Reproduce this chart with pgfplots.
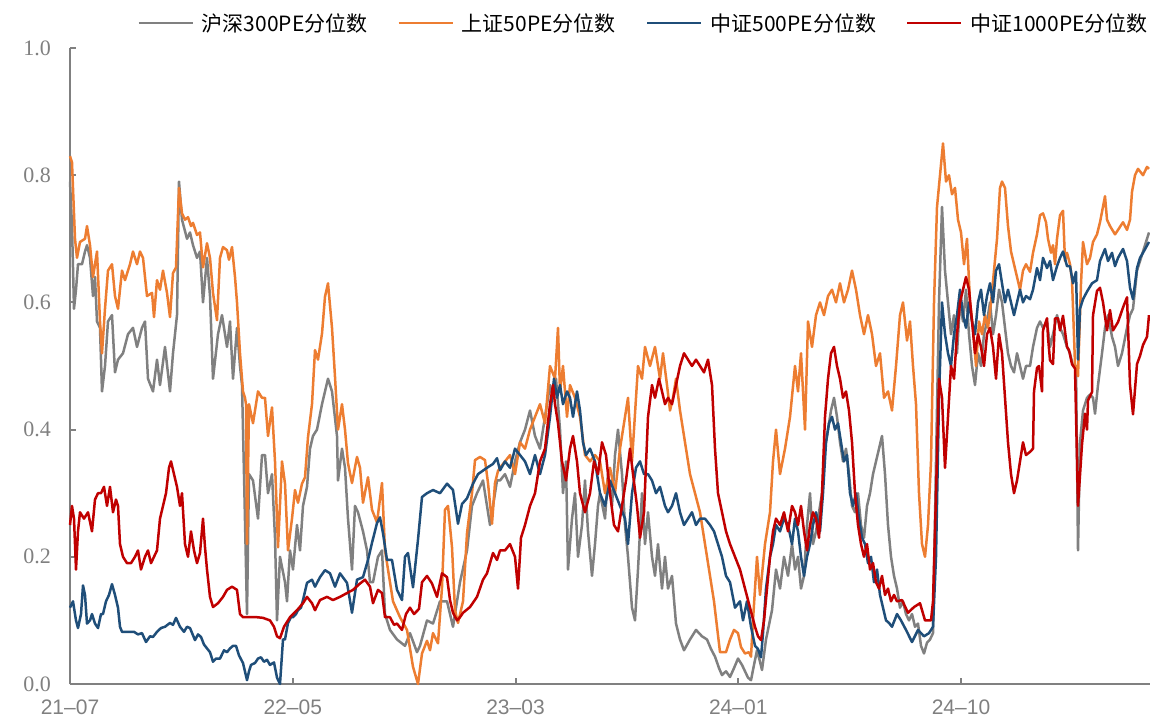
\documentclass[border=0pt]{standalone}
\usepackage{pgfplots}
\pgfplotsset{compat=1.18}
\usepackage{fontspec}
\setmainfont{Liberation Serif}
\newfontfamily\sansf{Liberation Sans}
\newfontfamily\cjk{Noto Sans CJK SC}
\definecolor{axgray}{HTML}{808080}
\definecolor{cgray}{HTML}{808080}
\definecolor{corange}{HTML}{ED7D31}
\definecolor{cblue}{HTML}{1F4E79}
\definecolor{cred}{HTML}{C00000}
\begin{document}
\begin{tikzpicture}
\begin{axis}[
  scale only axis, width=1080pt, height=636pt,
  xmin=70, xmax=1150, ymin=0, ymax=1,
  axis x line=bottom, axis y line=left,
  axis line style={-, draw=axgray, line width=2.2pt},
  xtick={70,292.75,515.5,738.25,961},
  xticklabels={21–07,22–05,23–03,24–01,24–10},
  ytick={0,0.2,0.4,0.6,0.8,1.0},
  yticklabels={0.0,0.2,0.4,0.6,0.8,1.0},
  tick style={draw=axgray, line width=2pt},
  major tick length=6pt, tick align=inside,
  xticklabel style={font=\sansf\fontsize{21}{21}\selectfont, text=axgray, inner sep=0pt, yshift=-16pt},
  yticklabel style={font=\fontsize{22}{22}\selectfont, text=axgray, inner sep=0pt, xshift=-19pt},
  clip=false,
  legend columns=4,
  legend style={draw=none, fill=none, inner sep=0pt,
    at={(axis description cs:1.0,1.0393)}, anchor=east,
    font=\cjk\fontsize{21}{21}\selectfont,
    /tikz/every odd column/.append style={column sep=6pt},
    /tikz/every even column/.append style={column sep=28pt}},
  legend cell align=left,
  legend image code/.code={\draw[#1] (0pt,0pt) -- (54pt,0pt);},
  every axis plot/.append style={line width=2.5pt, line join=round},
]
% 沪深300
\addplot[cgray] coordinates {
(70,0.79) (72,0.72) (74,0.59) (76,0.62) (78,0.66) (82,0.66) (85,0.68) (87,0.69) (90,0.67) (93,0.61) (95,0.64) (97,0.57) (100,0.56) (102,0.46) (105,0.50) (108,0.57) (112,0.58) (115,0.49) (118,0.51) (123,0.52) (128,0.55) (133,0.56) (137,0.53) (142,0.56) (145,0.57) (148,0.48) (153,0.46) (157,0.51) (160,0.47) (165,0.53) (170,0.46) (173,0.52) (177,0.58) (179,0.79) (182,0.73) (187,0.70) (190,0.71) (193,0.69) (197,0.67) (200,0.68) (203,0.60) (207,0.67) (210,0.61) (213,0.48) (218,0.55) (222,0.58) (227,0.53) (230,0.57) (233,0.48) (237,0.56) (240,0.50) (242,0.47) (244,0.33) (247,0.11) (249,0.33) (253,0.32) (258,0.26) (262,0.36) (265,0.36) (268,0.30) (272,0.33) (275,0.23) (277,0.10) (280,0.20) (285,0.16) (287,0.13) (290,0.21) (293,0.18) (297,0.25) (300,0.21) (303,0.28) (307,0.31) (310,0.37) (313,0.39) (317,0.40) (322,0.44) (325,0.46) (328,0.48) (332,0.46) (337,0.39) (338,0.32) (342,0.37) (345,0.34) (348,0.26) (352,0.18) (355,0.28) (358,0.27) (363,0.24) (367,0.21) (370,0.16) (373,0.16) (378,0.20) (382,0.21) (385,0.11) (390,0.085) (397,0.07) (405,0.06) (410,0.08) (417,0.05) (420,0.06) (427,0.10) (433,0.095) (440,0.13) (447,0.13) (453,0.09) (460,0.16) (467,0.21) (472,0.28) (477,0.30) (483,0.32) (487,0.28) (490,0.25) (493,0.28) (497,0.32)
(500,0.32) (505,0.33) (510,0.31) (515,0.35) (520,0.38) (525,0.40) (530,0.43) (535,0.39) (540,0.37) (545,0.42) (550,0.47) (553,0.45) (556,0.48) (560,0.40) (563,0.30) (566,0.35) (568,0.18) (572,0.26) (575,0.30) (578,0.20) (582,0.25) (585,0.32) (588,0.24) (592,0.17) (595,0.22) (598,0.28) (600,0.30) (605,0.26) (608,0.33) (612,0.28) (615,0.36) (618,0.40) (622,0.33) (625,0.25) (628,0.20) (632,0.12) (635,0.10) (638,0.18) (642,0.30) (645,0.22) (648,0.27) (652,0.20) (655,0.17) (658,0.22) (662,0.15) (665,0.20) (668,0.15) (672,0.17) (676,0.095) (680,0.07) (684,0.053) (690,0.07) (696,0.085) (702,0.075) (707,0.07) (711,0.055) (715,0.043) (719,0.025) (722,0.014) (726,0.02) (730,0.011) (734,0.025) (738,0.04) (742,0.03) (745,0.02) (748,0.01) (751,0.006) (754,0.03) (757,0.053) (760,0.035) (762,0.022) (766,0.07) (772,0.116) (776,0.18) (780,0.15) (784,0.20) (788,0.17) (792,0.22) (795,0.18) (798,0.20) (801,0.15) (804,0.17) (807,0.25) (810,0.30) (813,0.22) (816,0.24) (819,0.27) (822,0.30) (825,0.37) (828,0.40) (831,0.43) (834,0.45) (837,0.42) (840,0.38) (843,0.35) (846,0.37) (849,0.33) (852,0.28) (855,0.27) (858,0.30) (861,0.25) (864,0.23) (867,0.28) (870,0.30) (873,0.33) (876,0.35) (879,0.37) (882,0.39) (885,0.33) (888,0.25) (891,0.20) (894,0.17) (897,0.15) (900,0.12) (903,0.13) (906,0.11) (909,0.10) (912,0.11) (915,0.09) (918,0.095) (921,0.06) (924,0.048) (927,0.065) (930,0.07) (933,0.08) (936,0.35) (939,0.60) (942,0.75) (945,0.65) (948,0.60) (951,0.55) (954,0.58) (957,0.52) (960,0.60) (963,0.57) (966,0.62) (969,0.55) (972,0.50) (975,0.47) (978,0.52) (981,0.50) (984,0.55) (987,0.57) (990,0.60) (993,0.55) (996,0.58) (999,0.62) (1002,0.60) (1005,0.56) (1008,0.52) (1011,0.50) (1014,0.49) (1017,0.52) (1020,0.50) (1023,0.48) (1026,0.50) (1030,0.50) (1033,0.53) (1037,0.56) (1040,0.57) (1043,0.56) (1047,0.57) (1050,0.53) (1053,0.55) (1057,0.58) (1060,0.56) (1063,0.55) (1067,0.53) (1070,0.52) (1073,0.50) (1076,0.50) (1078,0.21) (1080,0.38) (1083,0.43) (1087,0.45) (1090,0.455) (1093,0.45) (1095,0.425) (1098,0.47) (1102,0.52) (1105,0.56) (1108,0.58) (1112,0.546) (1115,0.53) (1118,0.50) (1122,0.52) (1127,0.56) (1130,0.58) (1133,0.59) (1137,0.65) (1140,0.665) (1143,0.68) (1147,0.70) (1149,0.71)
};
\addlegendentry{沪深300PE分位数}
% 上证50
\addplot[corange] coordinates {
(70,0.83) (72,0.82) (75,0.70) (77,0.67) (80,0.695) (85,0.70) (87,0.72) (90,0.69) (93,0.64) (97,0.68) (100,0.57) (102,0.52) (105,0.59) (108,0.65) (112,0.66) (115,0.61) (118,0.59) (122,0.65) (125,0.635) (130,0.66) (133,0.68) (137,0.66) (140,0.68) (143,0.67) (147,0.61) (152,0.615) (154,0.577) (157,0.635) (160,0.62) (163,0.65) (167,0.615) (170,0.577) (173,0.646) (176,0.655) (179,0.78) (182,0.74) (185,0.73) (188,0.734) (191,0.72) (193,0.725) (197,0.706) (200,0.71) (203,0.655) (207,0.693) (210,0.67) (213,0.615) (217,0.572) (220,0.67) (223,0.687) (227,0.682) (229,0.667) (232,0.687) (235,0.64) (237,0.60) (240,0.52) (243,0.46) (245,0.45) (246,0.44) (247,0.22) (249,0.44) (253,0.41) (258,0.46) (262,0.45) (265,0.45) (268,0.39) (272,0.435) (275,0.35) (278,0.215) (282,0.35) (285,0.315) (288,0.21) (292,0.26) (295,0.305) (298,0.285) (302,0.315) (305,0.325) (308,0.388) (312,0.44) (315,0.525) (318,0.51) (322,0.551) (325,0.609) (328,0.63) (332,0.56) (335,0.483) (338,0.40) (342,0.44) (345,0.40) (348,0.347) (352,0.316) (357,0.357) (360,0.34) (363,0.285) (368,0.325) (372,0.274) (377,0.254) (382,0.316) (385,0.21) (388,0.18) (393,0.13) (400,0.105) (407,0.085) (413,0.027) (418,0.0) (422,0.048) (427,0.068) (430,0.053) (433,0.08) (438,0.064) (442,0.152) (445,0.274) (448,0.28) (452,0.215) (455,0.116) (458,0.096) (463,0.13) (467,0.237) (472,0.30) (475,0.352) (480,0.357) (485,0.352) (488,0.316) (492,0.252) (495,0.316) (498,0.335)
(500,0.34) (505,0.35) (510,0.36) (515,0.33) (520,0.38) (525,0.37) (530,0.40) (535,0.42) (540,0.44) (545,0.41) (550,0.50) (555,0.48) (558,0.56) (560,0.46) (563,0.50) (567,0.42) (570,0.47) (575,0.45) (580,0.42) (585,0.36) (590,0.35) (595,0.36) (600,0.35) (605,0.30) (610,0.34) (615,0.30) (620,0.37) (625,0.42) (628,0.45) (632,0.35) (638,0.50) (642,0.48) (645,0.53) (650,0.50) (655,0.53) (660,0.48) (663,0.52) (667,0.47) (670,0.43) (673,0.45) (676,0.48) (680,0.43) (685,0.38) (690,0.33) (695,0.30) (700,0.27) (705,0.22) (710,0.17) (714,0.13) (717,0.09) (720,0.05) (726,0.05) (730,0.07) (734,0.085) (738,0.08) (741,0.058) (745,0.048) (749,0.05) (751,0.043) (753,0.10) (757,0.20) (760,0.14) (765,0.22) (770,0.27) (773,0.35) (776,0.40) (780,0.33) (785,0.37) (790,0.42) (795,0.50) (798,0.46) (801,0.52) (805,0.40) (808,0.57) (812,0.53) (816,0.58) (820,0.60) (824,0.58) (828,0.61) (832,0.62) (836,0.60) (840,0.63) (844,0.60) (848,0.62) (852,0.65) (856,0.62) (860,0.58) (864,0.55) (868,0.58) (872,0.55) (876,0.50) (880,0.52) (884,0.45) (888,0.46) (892,0.43) (896,0.50) (900,0.58) (903,0.60) (907,0.54) (910,0.57) (913,0.50) (916,0.44) (919,0.30) (922,0.22) (925,0.20) (928,0.25) (931,0.35) (934,0.60) (937,0.75) (940,0.80) (943,0.85) (946,0.79) (949,0.80) (952,0.77) (955,0.78) (958,0.73) (961,0.71) (964,0.66) (967,0.70) (970,0.60) (973,0.56) (976,0.50) (979,0.57) (982,0.55) (985,0.58) (988,0.56) (991,0.60) (994,0.65) (997,0.70) (1000,0.78) (1002,0.79) (1005,0.78) (1008,0.72) (1011,0.68) (1014,0.66) (1017,0.64) (1020,0.62) (1023,0.65) (1026,0.66) (1030,0.648) (1033,0.678) (1037,0.707) (1040,0.737) (1043,0.74) (1046,0.726) (1048,0.70) (1051,0.678) (1053,0.69) (1055,0.66) (1057,0.70) (1060,0.737) (1063,0.744) (1065,0.665) (1067,0.678) (1070,0.66) (1072,0.635) (1075,0.503) (1078,0.484) (1081,0.63) (1083,0.695) (1087,0.66) (1090,0.67) (1093,0.695) (1097,0.707) (1100,0.726) (1105,0.767) (1107,0.73) (1110,0.72) (1115,0.707) (1118,0.714) (1123,0.726) (1127,0.714) (1130,0.73) (1132,0.774) (1135,0.80) (1138,0.81) (1143,0.80) (1147,0.813) (1149,0.81)
};
\addlegendentry{上证50PE分位数}
% 中证500
\addplot[cblue] coordinates {
(70,0.12) (73,0.13) (76,0.10) (78,0.088) (81,0.11) (83,0.155) (85,0.14) (87,0.095) (90,0.10) (92,0.11) (95,0.095) (98,0.088) (101,0.11) (103,0.11) (106,0.13) (109,0.14) (112,0.157) (115,0.14) (118,0.12) (120,0.09) (122,0.082) (128,0.082) (134,0.082) (138,0.078) (142,0.08) (146,0.066) (150,0.075) (153,0.074) (157,0.082) (161,0.088) (165,0.09) (170,0.096) (173,0.093) (176,0.104) (180,0.09) (184,0.082) (187,0.09) (190,0.088) (195,0.069) (198,0.078) (201,0.074) (204,0.062) (207,0.056) (210,0.05) (213,0.035) (216,0.04) (220,0.04) (224,0.053) (227,0.05) (230,0.056) (233,0.06) (236,0.06) (239,0.045) (243,0.033) (247,0.006) (249,0.02) (251,0.03) (255,0.033) (258,0.04) (261,0.042) (264,0.035) (267,0.038) (270,0.03) (274,0.034) (277,0.01) (280,0.0) (283,0.07) (285,0.07) (288,0.096) (291,0.105) (293,0.105) (296,0.11) (298,0.116) (301,0.12) (303,0.132) (307,0.159) (312,0.164) (315,0.153) (320,0.168) (325,0.179) (330,0.174) (335,0.153) (340,0.174) (347,0.159) (352,0.112) (357,0.164) (363,0.168) (368,0.195) (372,0.222) (377,0.253) (380,0.262) (383,0.237) (387,0.195) (392,0.195) (397,0.148) (402,0.132) (405,0.20) (408,0.206) (413,0.152) (418,0.227) (422,0.294) (427,0.30) (433,0.305) (440,0.30) (447,0.315) (453,0.305) (458,0.252) (462,0.283) (467,0.292) (473,0.315) (478,0.33) (487,0.34) (493,0.346) (497,0.355)
(500,0.336) (505,0.35) (510,0.34) (515,0.37) (520,0.36) (525,0.35) (530,0.33) (535,0.36) (540,0.33) (545,0.36) (550,0.42) (554,0.48) (557,0.45) (560,0.47) (563,0.44) (567,0.46) (570,0.45) (573,0.42) (577,0.46) (580,0.43) (583,0.38) (586,0.36) (590,0.37) (595,0.35) (600,0.30) (605,0.28) (610,0.32) (615,0.30) (620,0.28) (625,0.26) (628,0.22) (632,0.30) (636,0.34) (640,0.35) (644,0.33) (648,0.33) (652,0.32) (656,0.30) (660,0.31) (665,0.28) (668,0.27) (672,0.28) (676,0.30) (680,0.27) (684,0.25) (688,0.26) (692,0.27) (696,0.25) (700,0.26) (705,0.26) (710,0.25) (714,0.24) (718,0.22) (722,0.20) (726,0.17) (730,0.16) (735,0.12) (740,0.13) (743,0.10) (747,0.13) (751,0.09) (755,0.06) (758,0.055) (761,0.042) (763,0.08) (766,0.15) (770,0.20) (773,0.22) (776,0.25) (780,0.24) (784,0.26) (788,0.25) (792,0.22) (795,0.26) (798,0.24) (801,0.20) (804,0.17) (807,0.20) (810,0.22) (813,0.25) (816,0.27) (820,0.24) (823,0.30) (826,0.38) (829,0.41) (832,0.42) (835,0.40) (838,0.41) (841,0.38) (844,0.35) (847,0.36) (850,0.30) (853,0.28) (856,0.30) (859,0.26) (862,0.23) (865,0.22) (868,0.19) (871,0.20) (874,0.16) (877,0.18) (880,0.14) (883,0.12) (886,0.10) (889,0.096) (892,0.09) (897,0.11) (901,0.10) (906,0.085) (912,0.066) (918,0.085) (924,0.075) (929,0.08) (933,0.09) (936,0.20) (939,0.45) (942,0.60) (945,0.55) (948,0.52) (951,0.50) (954,0.55) (957,0.58) (960,0.62) (963,0.58) (966,0.56) (969,0.60) (972,0.57) (975,0.55) (978,0.60) (981,0.62) (984,0.58) (987,0.61) (990,0.63) (993,0.60) (996,0.65) (999,0.66) (1002,0.63) (1005,0.60) (1008,0.62) (1011,0.60) (1014,0.58) (1017,0.60) (1020,0.62) (1023,0.60) (1026,0.61) (1030,0.605) (1033,0.62) (1037,0.654) (1040,0.635) (1043,0.67) (1047,0.654) (1050,0.665) (1053,0.635) (1057,0.657) (1060,0.67) (1063,0.68) (1067,0.657) (1070,0.657) (1073,0.63) (1076,0.648) (1078,0.51) (1080,0.59) (1083,0.605) (1087,0.617) (1092,0.63) (1097,0.635) (1100,0.665) (1105,0.684) (1108,0.665) (1112,0.678) (1115,0.657) (1118,0.67) (1123,0.684) (1127,0.665) (1130,0.623) (1133,0.605) (1137,0.654) (1140,0.67) (1143,0.678) (1149,0.695)
};
\addlegendentry{中证500PE分位数}
% 中证1000
\addplot[cred] coordinates {
(70,0.25) (72,0.28) (74,0.26) (76,0.18) (78,0.24) (80,0.27) (84,0.26) (88,0.27) (92,0.24) (95,0.29) (98,0.30) (101,0.30) (104,0.31) (107,0.28) (110,0.31) (113,0.27) (116,0.29) (118,0.28) (120,0.22) (123,0.20) (127,0.19) (131,0.19) (135,0.20) (138,0.21) (141,0.18) (145,0.20) (148,0.21) (151,0.19) (154,0.20) (157,0.21) (160,0.26) (163,0.28) (166,0.30) (169,0.34) (171,0.35) (174,0.33) (177,0.31) (180,0.28) (182,0.30) (185,0.22) (188,0.20) (191,0.24) (194,0.21) (197,0.19) (200,0.206) (203,0.26) (205,0.215) (207,0.18) (210,0.137) (213,0.121) (218,0.127) (223,0.137) (227,0.148) (232,0.153) (237,0.148) (240,0.11) (243,0.105) (250,0.105) (257,0.105) (263,0.104) (270,0.10) (274,0.09) (277,0.075) (280,0.072) (284,0.09) (290,0.105) (297,0.116) (303,0.127) (307,0.137) (312,0.127) (315,0.116) (320,0.132) (327,0.137) (333,0.132) (340,0.137) (347,0.143) (353,0.148) (360,0.158) (365,0.164) (370,0.153) (373,0.127) (378,0.148) (382,0.143) (385,0.105) (390,0.105) (394,0.093) (397,0.095) (402,0.085) (406,0.11) (410,0.12) (414,0.11) (419,0.118) (422,0.16) (427,0.17) (432,0.158) (437,0.137) (442,0.174) (447,0.168) (450,0.132) (453,0.112) (457,0.10) (460,0.105) (463,0.112) (470,0.121) (477,0.137) (483,0.164) (487,0.174) (493,0.206) (497,0.195)
(500,0.21) (505,0.21) (510,0.22) (515,0.20) (518,0.15) (521,0.23) (525,0.25) (530,0.28) (535,0.30) (540,0.35) (545,0.37) (550,0.44) (553,0.47) (555,0.44) (558,0.41) (562,0.35) (566,0.32) (570,0.37) (573,0.39) (577,0.35) (580,0.30) (585,0.27) (590,0.30) (594,0.35) (598,0.33) (602,0.38) (606,0.36) (610,0.30) (614,0.25) (618,0.24) (622,0.28) (626,0.32) (630,0.37) (633,0.33) (637,0.28) (640,0.23) (644,0.27) (648,0.42) (652,0.47) (655,0.45) (659,0.48) (662,0.46) (665,0.44) (668,0.45) (672,0.44) (676,0.47) (680,0.50) (684,0.52) (688,0.51) (692,0.50) (696,0.51) (700,0.50) (704,0.49) (708,0.51) (712,0.47) (715,0.37) (718,0.30) (722,0.27) (726,0.24) (730,0.22) (735,0.20) (740,0.18) (745,0.15) (750,0.12) (755,0.09) (758,0.075) (761,0.069) (764,0.10) (767,0.15) (770,0.20) (773,0.24) (776,0.26) (780,0.25) (784,0.27) (788,0.24) (792,0.28) (795,0.27) (798,0.25) (801,0.28) (804,0.24) (807,0.21) (810,0.25) (813,0.27) (816,0.26) (819,0.23) (822,0.30) (825,0.42) (828,0.48) (831,0.52) (834,0.53) (837,0.50) (840,0.48) (843,0.45) (846,0.46) (849,0.43) (852,0.38) (855,0.30) (858,0.25) (861,0.22) (864,0.20) (867,0.22) (870,0.18) (873,0.19) (876,0.16) (879,0.15) (882,0.17) (885,0.14) (888,0.15) (891,0.13) (894,0.14) (897,0.13) (902,0.132) (908,0.112) (914,0.121) (920,0.127) (925,0.10) (931,0.10) (933,0.13) (936,0.30) (939,0.48) (942,0.45) (945,0.34) (948,0.42) (951,0.50) (954,0.48) (957,0.55) (960,0.60) (963,0.62) (966,0.64) (969,0.62) (972,0.57) (975,0.52) (978,0.55) (981,0.53) (984,0.50) (987,0.55) (990,0.56) (993,0.53) (996,0.48) (999,0.55) (1002,0.52) (1005,0.45) (1008,0.38) (1011,0.33) (1014,0.30) (1017,0.32) (1020,0.35) (1023,0.38) (1026,0.36) (1030,0.365) (1033,0.37) (1034,0.46) (1037,0.497) (1039,0.50) (1042,0.46) (1043,0.556) (1047,0.575) (1048,0.545) (1050,0.509) (1053,0.503) (1055,0.575) (1058,0.575) (1060,0.556) (1063,0.579) (1067,0.53) (1069,0.525) (1072,0.503) (1075,0.496) (1078,0.28) (1082,0.377) (1085,0.425) (1087,0.40) (1088,0.446) (1092,0.459) (1093,0.58) (1097,0.618) (1100,0.623) (1103,0.60) (1107,0.556) (1110,0.588) (1113,0.556) (1118,0.569) (1123,0.592) (1127,0.608) (1130,0.47) (1133,0.424) (1137,0.503) (1140,0.516) (1143,0.533) (1147,0.546) (1149,0.58)
};
\addlegendentry{中证1000PE分位数}
\end{axis}
\pgfresetboundingbox
\useasboundingbox (-70pt,-34pt) rectangle (1080pt,684pt);
\end{tikzpicture}
\end{document}
